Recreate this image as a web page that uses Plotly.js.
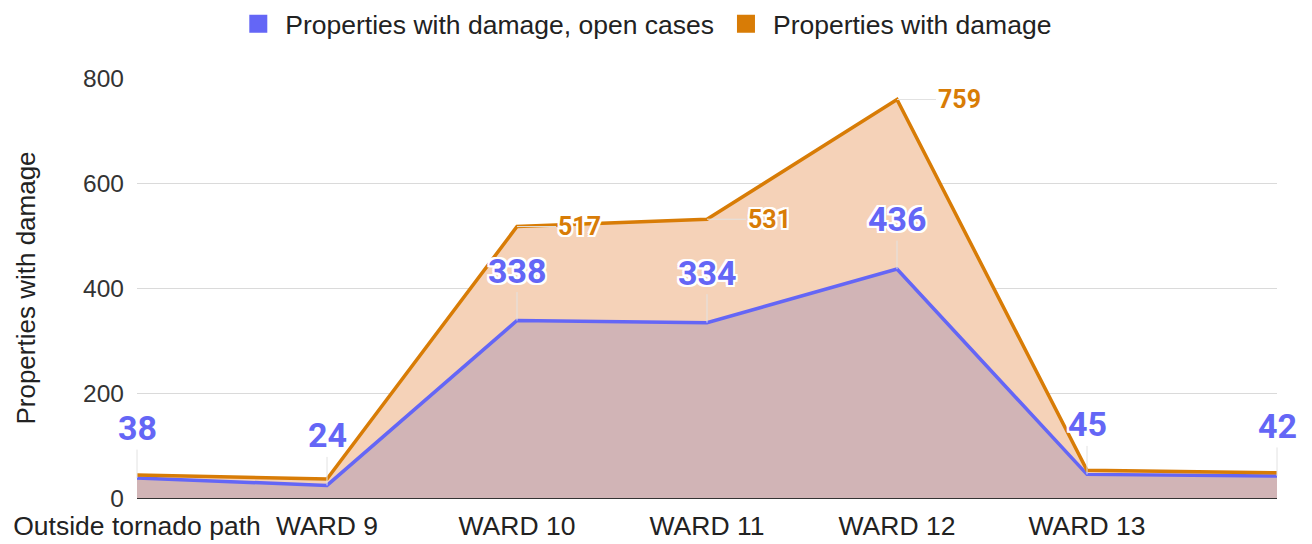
<!DOCTYPE html>
<html>
<head>
<meta charset="utf-8">
<script src="https://cdn.plot.ly/plotly-3.0.1.min.js"></script>
<style>html,body{margin:0;padding:0;background:#fff;}#chart{width:1312px;height:544px;}</style>
</head>
<body>
<div id="chart"></div>
<script>
// ---- data ----
const categories = ["Outside tornado path", "WARD 9", "WARD 10", "WARD 11", "WARD 12", "WARD 13", ""];
const openCases = [38, 24, 338, 334, 436, 45, 42];
const withDamage = [44, 36, 517, 531, 759, 53, 48];
const damageLabelIdx = [2, 3, 4];
const seriesNames = ["Properties with damage, open cases", "Properties with damage"];
const yTicks = [0, 200, 400, 600, 800];

// ---- styles ----
const BLUE = "#6466f6";
const ORANGE = "#d87c06";
const halo = "2px 2px 0 #fff, -2px -2px 0 #fff, 2px -2px 0 #fff, -2px 2px 0 #fff, 0 2px 0 #fff, 0 -2px 0 #fff, 2px 0 0 #fff, -2px 0 0 #fff";
const xIdx = categories.map((_, i) => i);

const traces = [
  {
    type: "scatter", mode: "lines", x: xIdx, y: openCases,
    line: {color: BLUE, width: 3.5}, fill: "tozeroy", fillcolor: "#d1b4b6",
    showlegend: false, hoverinfo: "skip"
  },
  {
    type: "scatter", mode: "lines", x: xIdx, y: withDamage,
    line: {color: ORANGE, width: 3.5}, fill: "tonexty", fillcolor: "#f5d2b8",
    showlegend: false, hoverinfo: "skip"
  },
  {
    type: "scatter", mode: "markers", x: [null], y: [null], name: seriesNames[0],
    marker: {symbol: "square", size: 20, color: BLUE, line: {width: 2, color: BLUE}}
  },
  {
    type: "scatter", mode: "markers", x: [null], y: [null], name: seriesNames[1],
    marker: {symbol: "square", size: 20, color: ORANGE, line: {width: 2, color: ORANGE}}
  }
];

const annotations = [];
openCases.forEach((v, i) => {
  annotations.push({
    x: i, y: v, xref: "x", yref: "y", text: String(v),
    showarrow: true, arrowhead: 0, arrowwidth: 1, arrowcolor: "#e2e2e2",
    ax: 0, ay: -50, standoff: 0,
    font: {family: "Roboto, sans-serif", size: 34, color: BLUE, weight: "bold", shadow: halo}
  });
});
damageLabelIdx.forEach(i => {
  annotations.push({
    x: i, y: withDamage[i], xref: "x", yref: "y", text: String(withDamage[i]),
    showarrow: true, arrowhead: 0, arrowwidth: 1, arrowcolor: "#e2e2e2",
    ax: 62, ay: 0, standoff: 0,
    font: {family: "Roboto, sans-serif", size: 25, color: ORANGE, weight: "bold", shadow: halo}
  });
});

const layout = {
  width: 1312, height: 544,
  margin: {l: 137, r: 35, t: 78, b: 46, autoexpand: false},
  paper_bgcolor: "#fff", plot_bgcolor: "#fff",
  font: {family: "Liberation Sans, Arial, sans-serif", color: "#222"},
  showlegend: true,
  legend: {
    orientation: "h", traceorder: "normal", itemwidth: 44,
    xref: "paper", x: 0.445, xanchor: "center",
    yref: "container", y: 0.956, yanchor: "middle",
    font: {size: 26.5, color: "#222"}, itemclick: false
  },
  xaxis: {
    range: [0, 6], tickmode: "array", tickvals: xIdx.slice(0, 6), ticktext: categories.slice(0, 6),
    showgrid: false, zeroline: false, showline: false, ticks: "", tickangle: 0,
    ticklabelstandoff: 9,
    tickfont: {size: 26.5, color: "#222"}, fixedrange: true
  },
  yaxis: {
    range: [0, 800], tickmode: "array", tickvals: yTicks,
    showgrid: true, gridcolor: "#dadada", gridwidth: 1,
    zeroline: true, zerolinecolor: "#333", zerolinewidth: 2,
    ticks: "", ticklabelstandoff: 12,
    tickfont: {size: 24.5, color: "#333"},
    title: {text: "Properties with damage", font: {size: 26, color: "#222"}, standoff: 40},
    fixedrange: true
  },
  annotations: annotations
};

Plotly.newPlot("chart", traces, layout, {displayModeBar: false, staticPlot: true});
</script>
</body>
</html>
